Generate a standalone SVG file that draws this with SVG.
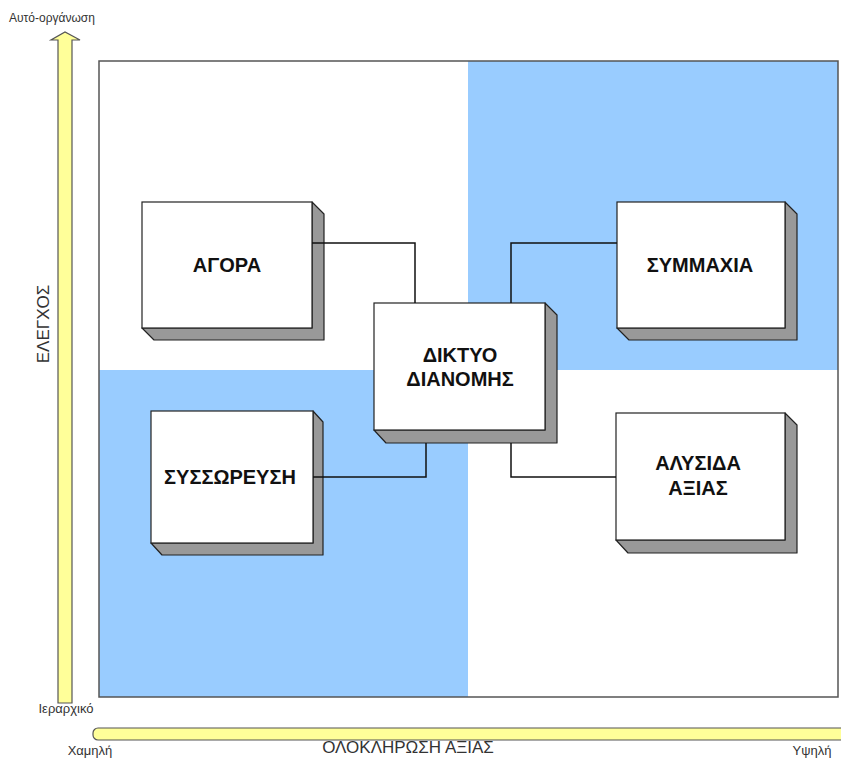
<svg xmlns="http://www.w3.org/2000/svg" width="841" height="761" viewBox="0 0 841 761">
<style>
.face{fill:#ffffff;stroke:#222;stroke-width:1.2}
.side{fill:#999999;stroke:#222;stroke-width:1.2;stroke-linejoin:round}
.lbl{font-family:"Liberation Sans",Arial,sans-serif;font-weight:bold;font-size:20px;fill:#111;text-anchor:middle}
.ax{font-family:"Liberation Sans",Arial,sans-serif;font-size:12px;fill:#333}
.conn{fill:none;stroke:#111;stroke-width:1.5}
.yel{fill:#ffff99;stroke:#555;stroke-width:1.2}
</style>
<rect width="841" height="761" fill="#ffffff"/>
<g id="quadrants">
<rect x="99" y="61" width="739" height="636" fill="#ffffff"/>
<rect x="468" y="61" width="370" height="309" fill="#99ccff"/>
<rect x="99" y="370" width="369" height="327" fill="#99ccff"/>
<rect x="99" y="61" width="739" height="636" fill="none" stroke="#555" stroke-width="1.5"/>
</g>
<g id="axes">
<path class="yel" d="M58,703 L58,40 L51,40 L65,32 L80,40 L72,40 L72,703 Z"/>
<rect class="yel" x="93" y="728" width="760" height="12" rx="5"/>
<text class="ax" x="9" y="22" font-size="12">Αυτό-οργάνωση</text>
<text class="ax" x="66" y="713" text-anchor="middle" style="font-size:13px">Ιεραρχικό</text>
<text class="ax" x="90" y="755" text-anchor="middle" style="font-size:13px">Χαμηλή</text>
<text class="ax" x="812" y="755" text-anchor="middle" style="font-size:13px">Υψηλή</text>
<text class="ax" x="408" y="753" text-anchor="middle" style="font-size:17px">ΟΛΟΚΛΗΡΩΣΗ ΑΞΙΑΣ</text>
<text class="ax" transform="translate(49,324) rotate(-90)" text-anchor="middle" style="font-size:17px">ΕΛΕΓΧΟΣ</text>
</g>
<g id="node-agora">
<path class="side" d="M312,202 L324,214 L324,340 L154,340 L142,328 L312,328 Z"/>
<rect class="face" x="142" y="202" width="170" height="126"/>
<text class="lbl" x="227" y="272">ΑΓΟΡΑ</text>
</g>
<g id="node-symmaxia">
<path class="side" d="M785,202 L797,214 L797,340 L629,340 L617,328 L785,328 Z"/>
<rect class="face" x="617" y="202" width="168" height="126"/>
<text class="lbl" x="700" y="272">ΣΥΜΜΑΧΙΑ</text>
</g>
<g id="node-diktyo">
<path class="side" d="M545,303 L557,315 L557,443 L386,443 L374,430 L545,430 Z"/>
<rect class="face" x="374" y="303" width="171" height="127"/>
<text class="lbl" x="460" y="362">ΔΙΚΤΥΟ</text>
<text class="lbl" x="460" y="386">ΔΙΑΝΟΜΗΣ</text>
</g>
<g id="node-syssoreusi">
<path class="side" d="M313,411 L323,422 L323,555 L162,555 L151,543 L313,543 Z"/>
<rect class="face" x="151" y="411" width="162" height="132"/>
<text class="lbl" x="230" y="484">ΣΥΣΣΩΡΕΥΣΗ</text>
</g>
<g id="node-alysida">
<path class="side" d="M785,413 L797,425 L797,553 L628,553 L616,540 L785,540 Z"/>
<rect class="face" x="616" y="413" width="169" height="127"/>
<text class="lbl" x="698" y="470">ΑΛΥΣΙΔΑ</text>
<text class="lbl" x="698" y="495">ΑΞΙΑΣ</text>
</g>
<g id="connectors">
<path class="conn" d="M312,243 L415,243 L415,303"/>
<path class="conn" d="M511,303 L511,243 L617,243"/>
<path class="conn" d="M426,443 L426,477 L313,477"/>
<path class="conn" d="M511,443 L511,477 L616,477"/>
</g>
</svg>
